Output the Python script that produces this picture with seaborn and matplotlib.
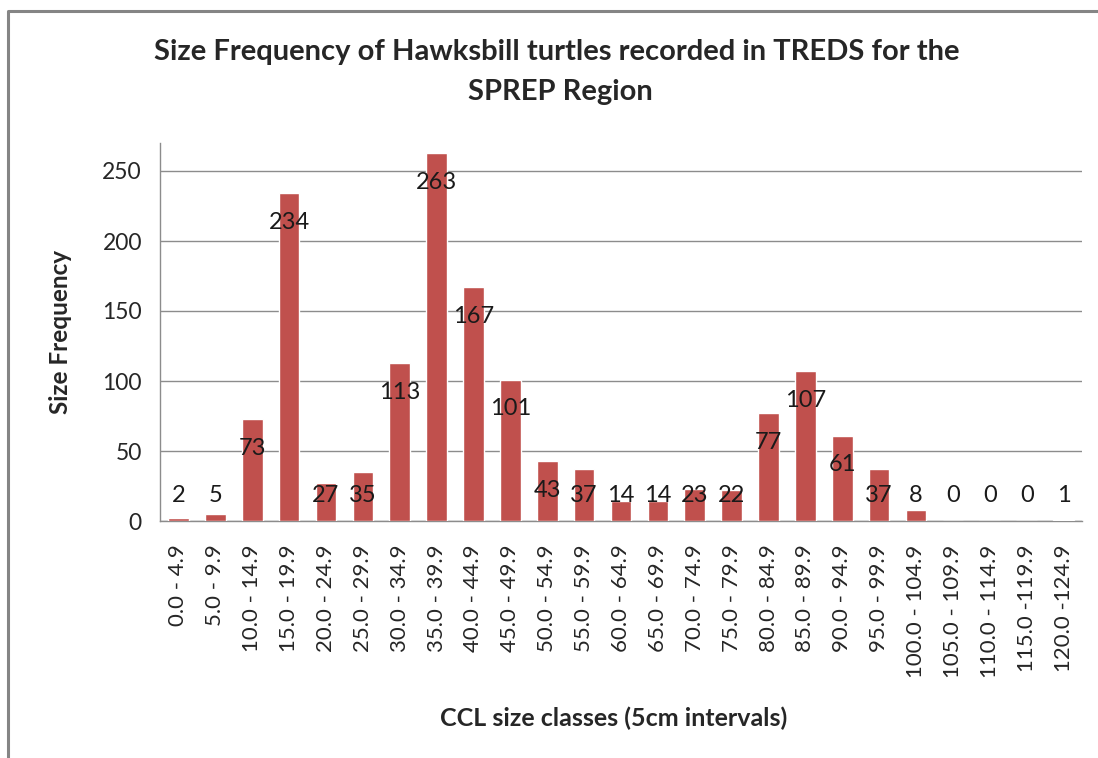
import matplotlib
matplotlib.use("Agg")
import matplotlib.pyplot as plt
import matplotlib.lines as mlines
import numpy as np
import pandas as pd
import seaborn as sns

# size classes (CCL, 5cm bins) and counts
size_classes = ["0.0 - 4.9", "5.0 - 9.9", "10.0 - 14.9", "15.0 - 19.9", "20.0 - 24.9",
                "25.0 - 29.9", "30.0 - 34.9", "35.0 - 39.9", "40.0 - 44.9", "45.0 - 49.9",
                "50.0 - 54.9", "55.0 - 59.9", "60.0 - 64.9", "65.0 - 69.9", "70.0 - 74.9",
                "75.0 - 79.9", "80.0 - 84.9", "85.0 - 89.9", "90.0 - 94.9", "95.0 - 99.9",
                "100.0 - 104.9", "105.0 - 109.9", "110.0 - 114.9", "115.0 -119.9", "120.0 -124.9"]
counts = [2, 5, 73, 234, 27, 35, 113, 263, 167, 101, 43, 37, 14, 14, 23, 22,
          77, 107, 61, 37, 8, 0, 0, 0, 1]

df = pd.DataFrame({"size_class": size_classes, "count": counts})

sns.set_style("white")
plt.rcParams["font.family"] = ["Lato", "DejaVu Sans"]

fig = plt.figure(figsize=(10.98, 7.58), dpi=100)
ax = fig.add_axes([160 / 1098, 1 - 521 / 758, 922 / 1098, 378 / 758])

bar_color = "#C0504D"
grey = "#8C8C8C"

sns.barplot(data=df, x="size_class", y="count", color=bar_color, width=0.56,
            saturation=1, ax=ax, zorder=3)

ax.set_xlim(-0.5, len(size_classes) - 0.5)
ax.set_ylim(0, 270)
ax.set_yticks(np.arange(0, 251, 50))
ax.set_yticks(np.arange(0, 271, 10), minor=True)
ax.set_xticks(np.arange(len(size_classes)))
ax.set_xticklabels(size_classes, rotation=90, fontsize=16)
ax.set_xticks(np.arange(-0.5, len(size_classes), 1), minor=True)
ax.tick_params(axis="y", which="major", labelsize=16.5, length=7, color=grey, direction="out", pad=6)
ax.tick_params(axis="y", which="minor", length=5, color=grey, direction="out")
ax.tick_params(axis="x", which="major", length=5, color=grey, direction="out", pad=12)
ax.tick_params(axis="x", which="minor", length=8, color=grey, direction="out")
ax.yaxis.grid(True, which="major", color=grey, linewidth=1, zorder=0)
ax.set_axisbelow(True)

for side in ["top", "right"]:
    ax.spines[side].set_visible(False)
for side in ["left", "bottom"]:
    ax.spines[side].set_color(grey)
    ax.spines[side].set_linewidth(1)

ax.set_xlabel("")
ax.set_ylabel("")

# data labels: inside the top for tall bars, floating above the base otherwise
for i, v in enumerate(counts):
    y = max(v - 21, 18)
    ax.text(i, y, str(v), ha="center", va="center", fontsize=17, color="#1a1a1a", zorder=4)

fig.text(557 / 1098, 1 - 52 / 758, "Size Frequency of Hawksbill turtles recorded in TREDS for the",
         ha="center", va="center", fontsize=21, fontweight="bold")
fig.text(560 / 1098, 1 - 92 / 758, "SPREP Region",
         ha="center", va="center", fontsize=21, fontweight="bold")
fig.text(60 / 1098, 1 - 332 / 758, "Size Frequency", rotation=90,
         ha="center", va="center", fontsize=17.5, fontweight="bold")
fig.text(614 / 1098, 1 - 718 / 758, "CCL size classes (5cm intervals)",
         ha="center", va="center", fontsize=18, fontweight="bold")

# chart area frame (top and left edges visible)
fig.add_artist(mlines.Line2D([8 / 1098, 8 / 1098, 1], [0, 1 - 11 / 758, 1 - 11 / 758],
                             transform=fig.transFigure, color="#858585", linewidth=2.2))

fig.savefig("out.png", dpi=100)
